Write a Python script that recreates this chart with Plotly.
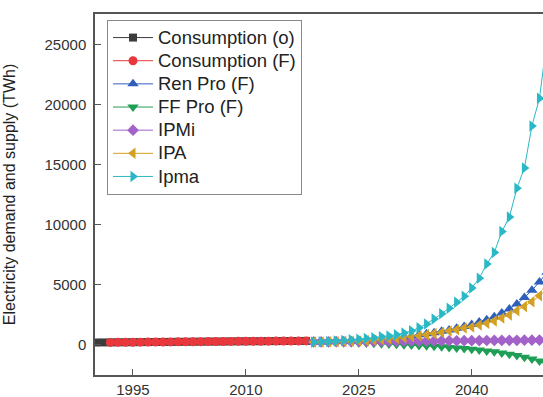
import plotly.graph_objects as go

obs_years = list(range(1990, 2019))
obs_consumption = [150, 155, 160, 165, 170, 175, 180, 185, 190, 195, 200, 205, 210, 215, 220,
                   225, 230, 235, 240, 245, 250, 255, 258, 262, 266, 270, 273, 276, 280]
fit_years = list(range(1992, 2019))
fit_consumption = [160, 165, 170, 175, 180, 185, 190, 195, 200, 205, 210, 215, 220,
                   225, 230, 235, 240, 245, 250, 255, 258, 262, 266, 270, 273, 276, 280]

fc_years = list(range(2019, 2051))
ren_pro = [190, 200, 210, 225, 240, 260, 285, 320, 360, 410, 470, 550, 620, 700, 790, 880,
           970, 1080, 1200, 1330, 1480, 1650, 1850, 2050, 2300, 2600, 2950, 3350, 3900, 4500,
           5200, 6000]
ff_pro = [180, 175, 170, 165, 155, 140, 120, 100, 80, 55, 30, 0, -30, -60, -95, -130,
          -170, -210, -260, -310, -360, -420, -480, -550, -630, -720, -820, -940, -1070,
          -1220, -1400, -1650]
ipmi = [200, 205, 210, 215, 220, 225, 230, 235, 240, 245, 250, 255, 260, 265, 270, 275,
        280, 285, 290, 295, 300, 305, 310, 315, 320, 325, 330, 335, 340, 345, 350, 355]
ipa = [190, 195, 205, 215, 230, 250, 275, 305, 340, 390, 440, 500, 570, 640, 720, 800,
       890, 990, 1100, 1220, 1350, 1450, 1600, 1750, 1950, 2200, 2450, 2800, 3150, 3550,
       4050, 4600]
ipma = [180, 210, 240, 280, 320, 370, 420, 480, 550, 620, 700, 800, 950, 1120, 1370, 1700,
        2100, 2550, 3000, 3500, 4000, 4700, 5500, 6700, 7650, 9400, 10600, 13000, 14700,
        18200, 20500, 25400]

x_ticks = [1995, 2010, 2025, 2040]
x_tick_labels = ["1995", "2010", "2025", "2040"]
y_ticks = [0, 5000, 10000, 15000, 20000, 25000]
y_tick_labels = ["0", "5000", "10000", "15000", "20000", "25000"]

series = [
    ("Consumption (o)", obs_years, obs_consumption, "#3c3c3c", "square", 8),
    ("Consumption (F)", fit_years, fit_consumption, "#e8383d", "circle", 9),
    ("Ren Pro (F)", fc_years, ren_pro, "#2f5fbd", "triangle-up", 10),
    ("FF Pro (F)", fc_years, ff_pro, "#1f9e55", "triangle-down", 10),
    ("IPMi", fc_years, ipmi, "#a262c8", "diamond", 9),
    ("IPA", fc_years, ipa, "#d4a024", "triangle-left", 10),
    ("Ipma", fc_years, ipma, "#2bb8c6", "triangle-right", 10),
]

fig = go.Figure()
for name, xs, ys, color, sym, size in series:
    fig.add_trace(go.Scatter(
        x=xs, y=ys, mode="lines+markers",
        name='<span style="font-size:18.5px">' + name + "</span>",
        line=dict(color=color, width=1),
        marker=dict(symbol=sym, size=size, color=color, line=dict(width=0)),
    ))

FONT = "Liberation Sans, Arial, sans-serif"
axis_font = dict(family=FONT, size=15, color="#333333")
fig.update_layout(
    width=543, height=397,
    margin=dict(l=95, r=0, t=14, b=22),
    paper_bgcolor="white", plot_bgcolor="white",
    font=dict(family=FONT, size=15, color="#333333"),
    showlegend=True,
    legend=dict(
        x=0.0268, y=0.9834, xanchor="left", yanchor="top",
        bgcolor="white", bordercolor="#8a8a8a", borderwidth=1,
        font=dict(family=FONT, size=15.5, color="#222222"),
        tracegroupgap=0, itemwidth=40,
    ),
    xaxis=dict(
        range=[1989.96, 2049.47], tickvals=x_ticks, ticktext=x_tick_labels,
        ticks="inside", ticklen=6, tickwidth=1.2, tickcolor="#555555",
        showline=True, linecolor="#555555", linewidth=1.5, mirror=True,
        showgrid=False, zeroline=False, tickfont=axis_font, automargin=False,
        ticklabelstandoff=0,
    ),
    yaxis=dict(
        range=[-2558, 27525], tickvals=y_ticks, ticktext=y_tick_labels,
        ticks="inside", ticklen=6, tickwidth=1.2, tickcolor="#555555",
        showline=True, linecolor="#555555", linewidth=1.5,
        showgrid=False, zeroline=False, tickfont=axis_font, automargin=False,
        ticklabelstandoff=4,
        title=dict(text="Electricity demand and supply (TWh)",
                   font=dict(family=FONT, size=16, color="#222222"),
                   standoff=25),
    ),
)

fig.write_html(
    "out.html",
    config={"displayModeBar": False},
    post_script="document.body.style.margin='0';document.body.style.overflow='hidden';",
)
